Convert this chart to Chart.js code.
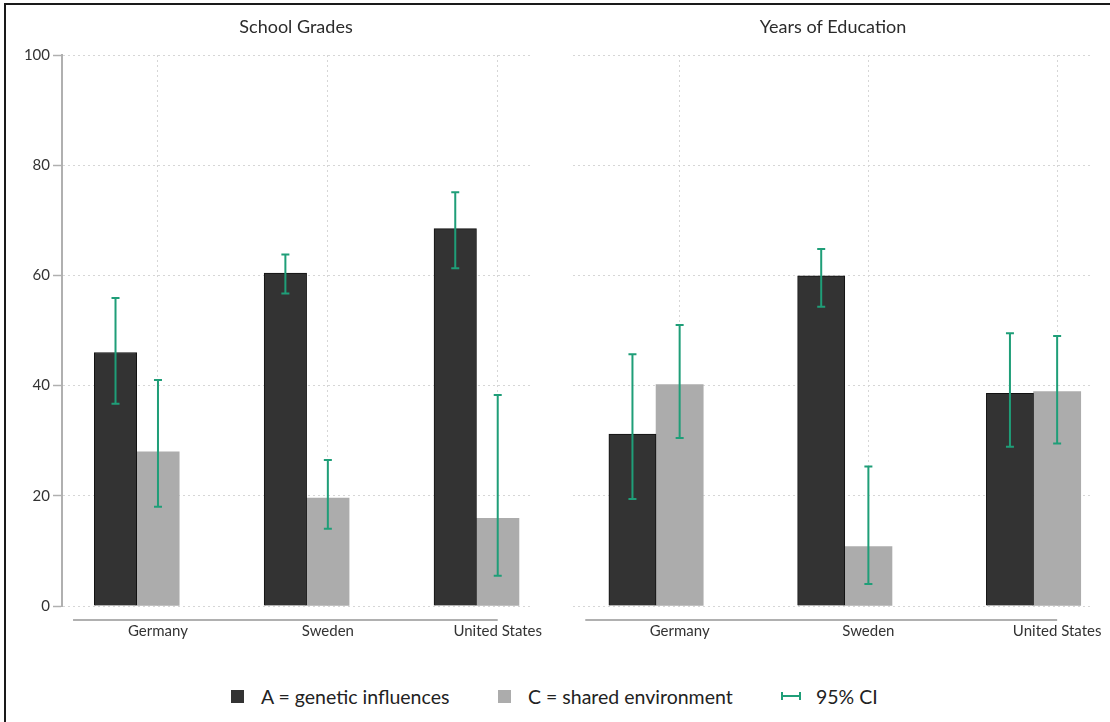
<!DOCTYPE html>
<html>
<head>
<meta charset="utf-8">
<script src="https://cdn.jsdelivr.net/npm/chart.js@4"></script>
<style>
  html, body { margin: 0; padding: 0; background: #fff; }
  body { width: 1110px; height: 722px; position: relative; overflow: hidden; font-family: Lato, "Open Sans", sans-serif; }
  .frame { position: absolute; left: 4px; top: 3px; width: 1120px; height: 740px; border: 2px solid #1a1a1a; box-sizing: border-box; }
  .panel { position: absolute; top: 0; width: 555px; height: 660px; }
  .legend-item { position: absolute; top: 684px; height: 24px; display: flex; align-items: center; font-size: 19.5px; color: #222; white-space: nowrap; }
  .swatch { width: 13px; height: 13px; margin-right: 17px; }
  .ci-icon { width: 16px; height: 8px; margin-right: 15px; border-left: 2px solid #1f9e78; border-right: 2px solid #1f9e78;
             background: linear-gradient(#1f9e78, #1f9e78) center / 100% 2px no-repeat; }
</style>
</head>
<body>
<div class="frame"></div>
<div class="panel" style="left:0"><canvas id="gradesChart"></canvas></div>
<div class="panel" style="left:555px"><canvas id="educationChart"></canvas></div>

<div class="legend-item" style="left:231px"><span class="swatch" style="background:#333"></span>A = genetic influences</div>
<div class="legend-item" style="left:498px"><span class="swatch" style="background:#acacac"></span>C = shared environment</div>
<div class="legend-item" style="left:781px"><span class="ci-icon"></span>95% CI</div>

<script>
const countries = ['Germany', 'Sweden', 'United States'];
const yTicks = [0, 20, 40, 60, 80, 100];

// School Grades
const gradesA = [46.0, 60.4, 68.5];
const gradesALow = [36.7, 56.7, 61.3];
const gradesAHigh = [55.9, 63.8, 75.1];
const gradesC = [28.0, 19.6, 15.9];
const gradesCLow = [18.0, 14.0, 5.5];
const gradesCHigh = [41.0, 26.5, 38.3];

// Years of Education
const eduA = [31.2, 59.9, 38.6];
const eduALow = [19.4, 54.3, 28.9];
const eduAHigh = [45.7, 64.8, 49.5];
const eduC = [40.2, 10.8, 38.9];
const eduCLow = [30.5, 4.0, 29.5];
const eduCHigh = [51.0, 25.3, 49.0];

const CI_COLOR = '#1f9e78';
const GRID_COLOR = '#d6d6d6';
const AXIS_COLOR = '#b0b0b0';

// vertical CI whiskers on top of every bar
const errorBars = {
  id: 'errorBars',
  afterDatasetsDraw(chart) {
    const ctx = chart.ctx;
    const y = chart.scales.y;
    chart.data.datasets.forEach((ds, di) => {
      chart.getDatasetMeta(di).data.forEach((bar, i) => {
        const top = y.getPixelForValue(ds.ciHigh[i]);
        const bottom = y.getPixelForValue(ds.ciLow[i]);
        ctx.save();
        ctx.strokeStyle = CI_COLOR;
        ctx.lineWidth = 2;
        ctx.beginPath();
        ctx.moveTo(bar.x, top);
        ctx.lineTo(bar.x, bottom);
        ctx.moveTo(bar.x - 4, top);
        ctx.lineTo(bar.x + 4, top);
        ctx.moveTo(bar.x - 4, bottom);
        ctx.lineTo(bar.x + 4, bottom);
        ctx.stroke();
        ctx.restore();
      });
    });
  }
};

// detached x axis line, running from 0.5 to the last category
const xAxisLine = {
  id: 'xAxisLine',
  afterDraw(chart) {
    const ctx = chart.ctx;
    const x = chart.scales.x;
    const yPos = chart.chartArea.bottom + 14;
    ctx.save();
    ctx.strokeStyle = AXIS_COLOR;
    ctx.lineWidth = 2;
    ctx.beginPath();
    ctx.moveTo(x.getPixelForValue(0.5), yPos);
    ctx.lineTo(x.getPixelForValue(countries.length), yPos);
    ctx.stroke();
    ctx.restore();
  }
};

function makePanel(id, title, a, aLow, aHigh, c, cLow, cHigh, showY, yWidth, padRight) {
  const ctx = document.getElementById(id).getContext('2d');
  return new Chart(ctx, {
    type: 'bar',
    data: {
      datasets: [{
        label: 'A = genetic influences',
        data: a.map((v, i) => ({ x: i + 1 - 0.25, y: v })),
        ciLow: aLow,
        ciHigh: aHigh,
        backgroundColor: '#333333',
        borderColor: '#111111',
        borderWidth: 1
      }, {
        label: 'C = shared environment',
        data: c.map((v, i) => ({ x: i + 1, y: v })),
        ciLow: cLow,
        ciHigh: cHigh,
        backgroundColor: '#acacac',
        borderWidth: 0
      }]
    },
    options: {
      responsive: true,
      maintainAspectRatio: false,
      animation: false,
      grouped: false,
      barPercentage: 1,
      categoryPercentage: 1,
      layout: { padding: { left: 0, right: padRight, top: 0, bottom: 0 } },
      plugins: {
        legend: { display: false },
        tooltip: { enabled: false },
        title: {
          display: true,
          text: title,
          fullSize: false,
          color: '#2b2b2b',
          font: { family: 'Lato', size: 18, weight: 'normal' },
          padding: { top: 16, bottom: 17.4 }
        }
      },
      scales: {
        x: {
          type: 'linear',
          min: 0.435,
          max: 3.19,
          offset: false,
          afterBuildTicks: (scale) => { scale.ticks = countries.map((_, i) => ({ value: i + 1 })); },
          afterFit: (scale) => {
            scale.height = 54;
            // labels never reach the panel edges, so no extra side padding
            scale.paddingLeft = 0;
            scale.paddingRight = 0;
          },
          ticks: {
            callback: (v) => countries[v - 1] || '',
            color: '#333',
            font: { family: 'Lato', size: 15 },
            padding: 16,
            maxRotation: 0
          },
          grid: { color: GRID_COLOR, lineWidth: 1, drawTicks: false, offset: false },
          border: { display: false, dash: [2, 3] }
        },
        y: {
          min: 0,
          max: 100,
          afterBuildTicks: (scale) => { scale.ticks = yTicks.map(v => ({ value: v })); },
          afterFit: (scale) => { scale.width = yWidth; },
          ticks: {
            display: showY,
            color: '#333',
            font: { family: 'Lato', size: 15 },
            padding: 3
          },
          grid: {
            color: GRID_COLOR,
            lineWidth: 1,
            drawTicks: showY,
            tickLength: 9,
            tickColor: AXIS_COLOR,
            tickWidth: 1.5,
            tickBorderDash: []
          },
          border: { display: showY, color: AXIS_COLOR, width: 2, dash: [2, 3] }
        }
      }
    },
    plugins: [errorBars, xAxisLine]
  });
}

makePanel('gradesChart', 'School Grades', gradesA, gradesALow, gradesAHigh, gradesC, gradesCLow, gradesCHigh, true, 62, 25);
makePanel('educationChart', 'Years of Education', eduA, eduALow, eduAHigh, eduC, eduCLow, eduCHigh, false, 18, 17);
</script>
</body>
</html>
